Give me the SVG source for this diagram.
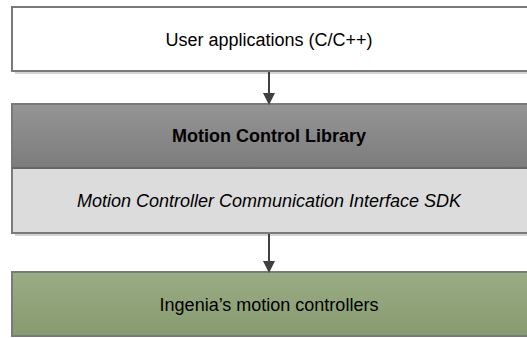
<svg xmlns="http://www.w3.org/2000/svg" width="527" height="338" viewBox="0 0 527 338">
  <style>
    .lbl { font-family: "Liberation Sans", Arial, sans-serif; font-size: 18px; fill: #000; text-anchor: middle; }
    .box { stroke: #7a7a7a; stroke-width: 2; }
    .shadow { fill: #d4d4d4; }
    .conn { stroke: #404040; stroke-width: 2; fill: none; }
  </style>
  <defs>
    <linearGradient id="gLib" x1="0" y1="0" x2="0" y2="1">
      <stop offset="0" stop-color="#959595"/>
      <stop offset="1" stop-color="#7c7c7c"/>
    </linearGradient>
    <linearGradient id="gCtl" x1="0" y1="0" x2="0" y2="1">
      <stop offset="0" stop-color="#99ac83"/>
      <stop offset="1" stop-color="#879a70"/>
    </linearGradient>
    <marker id="arr" markerWidth="12" markerHeight="12" refX="10" refY="6" orient="auto" markerUnits="userSpaceOnUse">
      <path d="M0,0 L12,6 L0,12 Z" fill="#404040"/>
    </marker>
  </defs>

  <g id="user-apps">
    <rect class="shadow" x="15" y="71" width="520" height="3"/>
    <rect class="box" x="12" y="7" width="520" height="64" fill="#ffffff"/>
    <text class="lbl" x="269" y="46">User applications (C/C++)</text>
  </g>

  <g id="motion-library">
    <rect class="shadow" x="15" y="233" width="520" height="3"/>
    <rect class="box" x="12" y="104" width="520" height="64" fill="url(#gLib)"/>
    <rect class="box" x="12" y="168" width="520" height="65" fill="#dcdcdc"/>
    <line x1="12" y1="168" x2="532" y2="168" stroke="#666" stroke-width="2"/>
    <text class="lbl" x="269" y="142" font-weight="bold">Motion Control Library</text>
    <text class="lbl" x="269" y="207" font-style="italic">Motion Controller Communication Interface SDK</text>
  </g>

  <g id="controllers">
    <rect class="box" x="12" y="272" width="520" height="64" fill="url(#gCtl)" stroke="#5a5a5a"/>
    <text class="lbl" x="269" y="311">Ingenia’s motion controllers</text>
  </g>

  <g id="connectors">
    <line class="conn" x1="269" y1="72" x2="269" y2="103" marker-end="url(#arr)"/>
    <line class="conn" x1="269" y1="234" x2="269" y2="271" marker-end="url(#arr)"/>
  </g>
</svg>
